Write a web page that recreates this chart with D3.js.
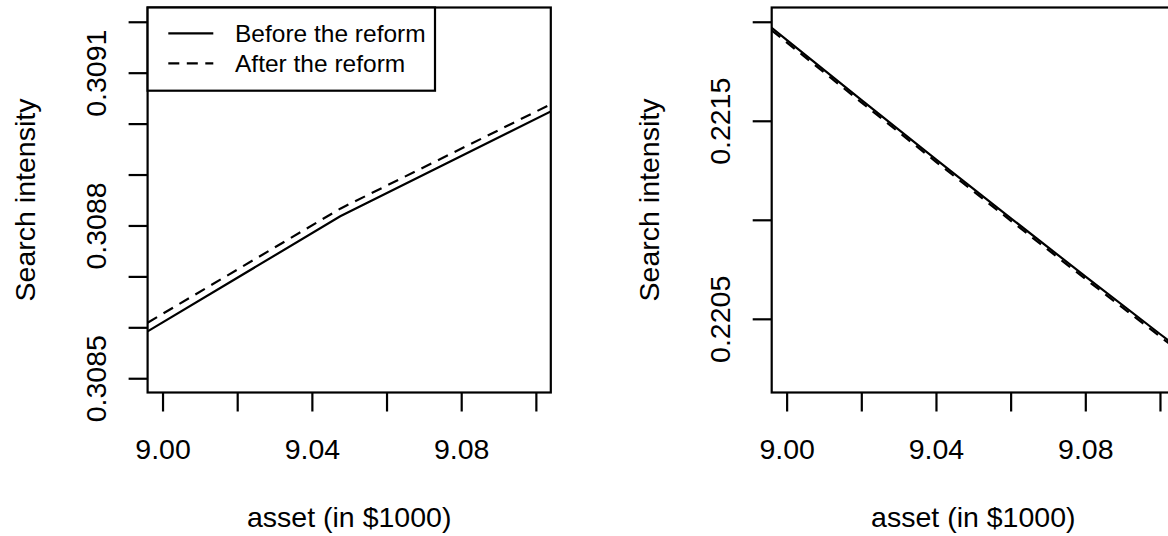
<!DOCTYPE html>
<html>
<head>
<meta charset="utf-8">
<style>
    body { margin: 0; background: #fff; }
    svg { display: block; font-family: 'Liberation Sans', Arial, Helvetica, sans-serif; }
    .axis .domain { display: none; }
    .axis line { stroke: #000; stroke-width: 2.2; }
    .axis text { font-size: 28.5px; fill: #000; }
</style>
</head>
<body>
<svg width="1168" height="536"></svg>

<script src="https://cdn.jsdelivr.net/npm/d3@7"></script>
<script>
// values
const xTicks = [9.00, 9.02, 9.04, 9.06, 9.08, 9.10];
const xTickLabels = ["9.00", "9.04", "9.08"];

// left panel
const assetLeft = [8.996, 9.0476, 9.104];
const beforeLeft = [0.308592, 0.308818, 0.309024];
const afterLeft = [0.308609, 0.308833, 0.309038];
const yTicksLeft = [0.3085, 0.3086, 0.3087, 0.3088, 0.3089, 0.3090, 0.3091, 0.3092];
const yTickLabelsLeft = ["0.3085", "0.3088", "0.3091"];

// right panel
const assetRight = [8.996, 9.00, 9.02, 9.04, 9.06, 9.08, 9.10, 9.104];
const beforeRight = [0.2219697, 0.2219089, 0.2216057, 0.2213056, 0.2210087, 0.2207145, 0.2204234, 0.2203649];
const afterRight = [0.2219570, 0.2218963, 0.2215931, 0.2212930, 0.2209961, 0.2207019, 0.2204108, 0.2203523];
const yTicksRight = [0.2205, 0.2210, 0.2215, 0.2220];
const yTickLabelsRight = ["0.2205", "0.2215"];

const legendLabels = ["Before the reform", "After the reform"];
const dash = "11,7.5";

let svg = d3.select("svg");

function drawPanel(p) {
    let x = d3.scaleLinear().domain([8.996, 9.104]).range([p.left, p.left + 403.2]);
    let y = d3.scaleLinear().domain(p.ylim).range([392.5, 7.5]);

    let g = svg.append("g");

    // x axis
    let xAxis = d3.axisBottom(x)
        .tickValues(xTicks)
        .tickSize(19)
        .tickPadding(27)
        .tickFormat(function (d) {
            let s = d3.format(".2f")(d);
            return xTickLabels.includes(s) ? s : "";
        });

    g.append("g")
        .attr("class", "x axis")
        .attr("transform", "translate(0,392.5)")
        .call(xAxis);

    // y axis, labels turned parallel to the axis like base R
    let yAxis = d3.axisLeft(y)
        .tickValues(p.yTicks)
        .tickSize(19)
        .tickFormat(function (d) {
            let s = d3.format(".4f")(d);
            return p.yLabels.includes(s) ? s : "";
        });

    let yg = g.append("g")
        .attr("class", "y axis")
        .attr("transform", `translate(${p.left},0)`)
        .call(yAxis);

    yg.selectAll(".tick text")
        .attr("x", null)
        .attr("dy", null)
        .attr("text-anchor", "middle")
        .attr("transform", "translate(-41.5,0) rotate(-90)");

    // clip lines to the plot region
    let clipId = "clip" + Math.round(p.left);
    svg.append("clipPath")
        .attr("id", clipId)
        .append("rect")
        .attr("x", p.left)
        .attr("y", 7.5)
        .attr("width", 403.2)
        .attr("height", 385);

    let line = d3.line()
        .x(function (d) { return x(d[0]) })
        .y(function (d) { return y(d[1]) });

    g.append("path")
        .datum(d3.zip(p.asset, p.before))
        .attr("d", line)
        .attr("clip-path", `url(#${clipId})`)
        .style("fill", "none")
        .style("stroke", "#000")
        .style("stroke-width", 2.2);

    g.append("path")
        .datum(d3.zip(p.asset, p.after))
        .attr("d", line)
        .attr("clip-path", `url(#${clipId})`)
        .style("fill", "none")
        .style("stroke", "#000")
        .style("stroke-width", 2.2)
        .style("stroke-dasharray", dash);

    // plot box
    g.append("rect")
        .attr("x", p.left)
        .attr("y", 7.5)
        .attr("width", 403.2)
        .attr("height", 385)
        .style("fill", "none")
        .style("stroke", "#000")
        .style("stroke-width", 2.2);

    // axis titles
    g.append("text")
        .attr("x", p.left + 201.6)
        .attr("y", 527)
        .attr("text-anchor", "middle")
        .style("font-size", "28.5px")
        .text("asset (in $1000)");

    g.append("text")
        .attr("transform", `translate(${p.left - 113},200) rotate(-90)`)
        .attr("text-anchor", "middle")
        .style("font-size", "28.5px")
        .text("Search intensity");

    return g;
}

let left = drawPanel({
    left: 147.6, ylim: [0.3085 - 0.000028, 0.3092 + 0.000028],
    yTicks: yTicksLeft, yLabels: yTickLabelsLeft,
    asset: assetLeft, before: beforeLeft, after: afterLeft
});

drawPanel({
    left: 771.7, ylim: [0.2202 - 0.000072, 0.2220 + 0.000072],
    yTicks: yTicksRight, yLabels: yTickLabelsRight,
    asset: assetRight, before: beforeRight, after: afterRight
});

// legend, top left of the left panel
let legend = left.append("g");

legend.append("rect")
    .attr("x", 147.6)
    .attr("y", 7.5)
    .attr("width", 287.4)
    .attr("height", 83.2)
    .style("fill", "#fff")
    .style("stroke", "#000")
    .style("stroke-width", 2.2);

legendLabels.forEach(function (label, i) {
    let ly = 33.3 + i * 30;
    legend.append("line")
        .attr("x1", 168.3)
        .attr("x2", 213.3)
        .attr("y1", ly)
        .attr("y2", ly)
        .style("stroke", "#000")
        .style("stroke-width", 2.2)
        .style("stroke-dasharray", i == 1 ? dash : null);
    legend.append("text")
        .attr("x", 235)
        .attr("y", ly)
        .attr("dy", "0.35em")
        .style("font-size", "24.5px")
        .text(label);
});
</script>
</body>
</html>
